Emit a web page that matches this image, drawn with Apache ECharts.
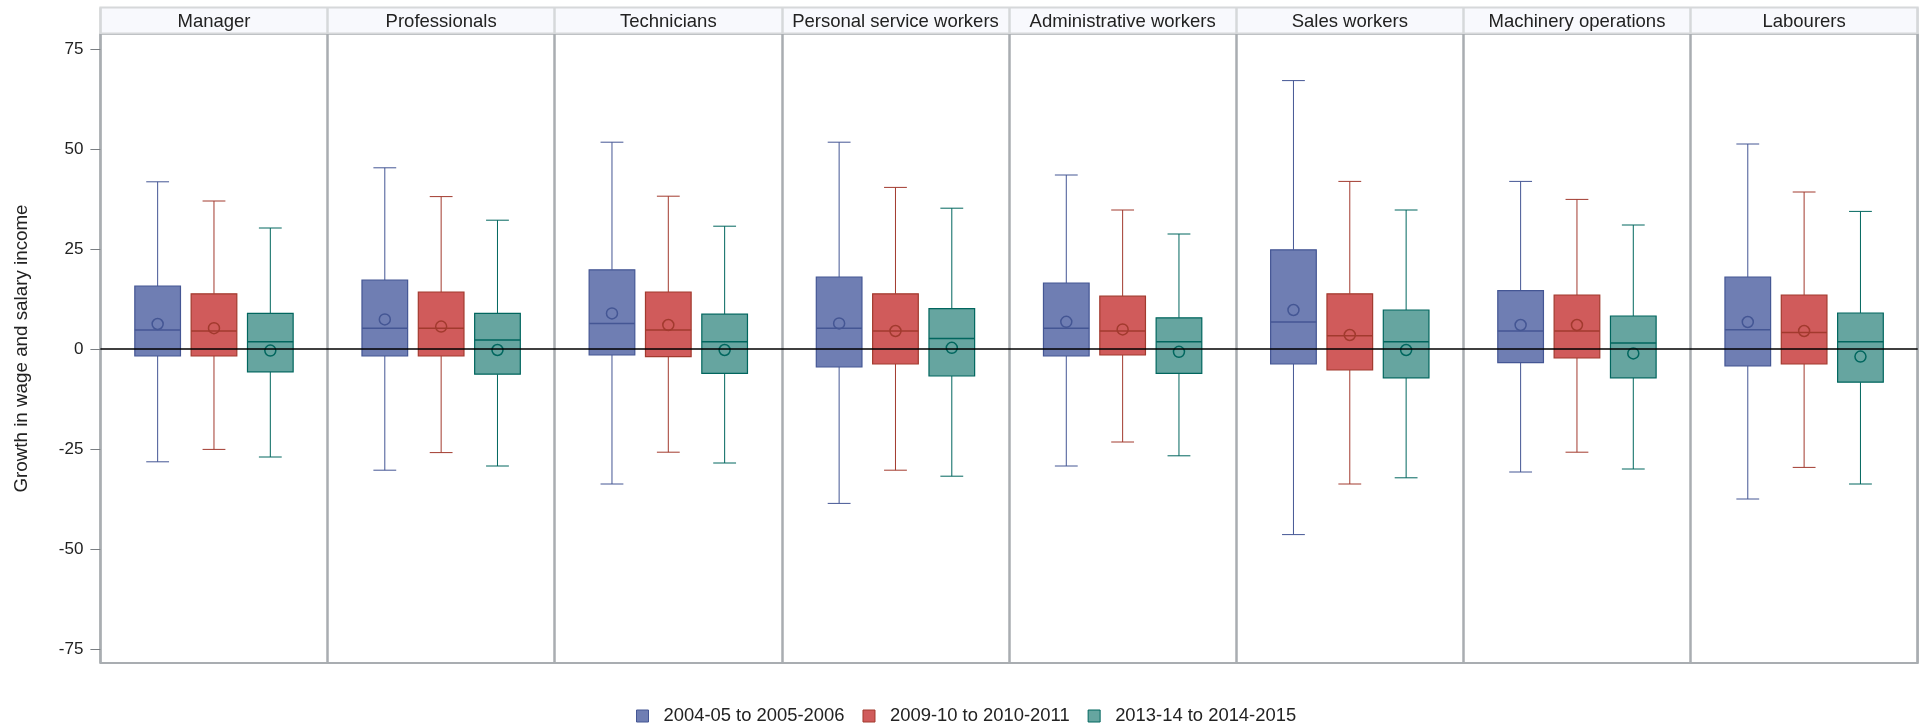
<!DOCTYPE html>
<html><head><meta charset="utf-8">
<script src="https://cdn.jsdelivr.net/npm/echarts@6/dist/echarts.min.js"></script>
<style>html,body{margin:0;padding:0;background:#fff}#c{width:1919px;height:725px}</style>
</head><body><div id="c"></div>
<script>
const categories = ['Manager','Professionals','Technicians','Personal service workers','Administrative workers','Sales workers','Machinery operations','Labourers'];
const seriesNames = ['2004-05 to 2005-2006','2009-10 to 2010-2011','2013-14 to 2014-2015'];
const yTicks = [-75,-50,-25,0,25,50,75];
// rows: [min, q1, median, q3, max]
const box2004 = [
 [-28.2,-1.75,4.75,15.75,41.8],
 [-30.3,-1.75,5.2,17.25,45.3],
 [-33.75,-1.5,6.4,19.8,51.7],
 [-38.6,-4.5,5.2,18,51.7],
 [-29.25,-1.75,5.2,16.5,43.5],
 [-46.4,-3.75,6.75,24.8,67.1],
 [-30.75,-3.4,4.5,14.6,41.9],
 [-37.5,-4.2,4.8,18,51.25]
];
const mean2004 = [6.25,7.4,8.9,6.4,6.8,9.75,6,6.75];
const box2009 = [
 [-25.1,-1.75,4.5,13.8,37],
 [-25.9,-1.75,5.2,14.25,38.1],
 [-25.8,-1.9,4.75,14.25,38.2],
 [-30.3,-3.75,4.5,13.8,40.4],
 [-23.25,-1.5,4.5,13.2,34.75],
 [-33.75,-5.25,3.3,13.8,41.9],
 [-25.8,-2.25,4.5,13.5,37.4],
 [-29.6,-3.75,4.1,13.5,39.25]
];
const mean2009 = [5.2,5.6,6,4.5,4.9,3.5,6,4.5];
const box2013 = [
 [-27,-5.7,1.8,8.9,30.25],
 [-29.25,-6.3,2.25,8.9,32.2],
 [-28.5,-6.1,1.8,8.7,30.7],
 [-31.8,-6.75,2.6,10.1,35.2],
 [-26.7,-6.1,1.8,7.8,28.75],
 [-32.2,-7.2,1.8,9.75,34.75],
 [-30,-7.2,1.5,8.25,31],
 [-33.75,-8.3,1.8,9,34.4]
];
const mean2013 = [-0.4,-0.25,-0.25,0.3,-0.7,-0.25,-1.1,-1.9];

const fills = ['#6F7EB3','#D05B5B','#66A5A0'];
const edges = ['#445694','#A23A2E','#01665E'];
const boxes = [box2004, box2009, box2013];
const means = [mean2004, mean2009, mean2013];
const frame = '#a9adb1';
const textColor = '#222';
const font = 'Liberation Sans, Arial, sans-serif';

function makeRender(k, fill, edge) {
  return function (params, api) {
    const c = api.value(0);
    const band = api.size([1, 0])[0];
    const bw = band * 0.201;
    const cx = api.coord([c, 0])[0] + (k - 1) * band * 0.248;
    const y = i => api.coord([c, api.value(i)])[1];
    const yMin = y(1), yQ1 = y(2), yMed = y(3), yQ3 = y(4), yMax = y(5), yMean = y(6);
    const cap = bw / 4;
    const ls = {stroke: edge, lineWidth: 1, fill: 'none'};
    return {type: 'group', children: [
      {type: 'line', shape: {x1: cx, y1: yQ3, x2: cx, y2: yMax}, style: ls},
      {type: 'line', shape: {x1: cx, y1: yQ1, x2: cx, y2: yMin}, style: ls},
      {type: 'line', shape: {x1: cx - cap, y1: yMax, x2: cx + cap, y2: yMax}, style: ls},
      {type: 'line', shape: {x1: cx - cap, y1: yMin, x2: cx + cap, y2: yMin}, style: ls},
      {type: 'rect', shape: {x: cx - bw / 2, y: yQ3, width: bw, height: yQ1 - yQ3}, style: {fill: fill, stroke: edge, lineWidth: 1.2}},
      {type: 'line', shape: {x1: cx - bw / 2, y1: yMed, x2: cx + bw / 2, y2: yMed}, style: {stroke: edge, lineWidth: 1.5}},
      {type: 'circle', shape: {cx: cx, cy: yMean, r: 5.5}, style: {fill: 'none', stroke: edge, lineWidth: 1.5}}
    ]};
  };
}

const series = seriesNames.map((name, k) => ({
  type: 'custom',
  name: name,
  xAxisIndex: 0, yAxisIndex: 0,
  itemStyle: {color: fills[k], borderColor: edges[k]},
  renderItem: makeRender(k, fills[k], edges[k]),
  encode: {x: 0, y: [1, 2, 3, 4, 5, 6]},
  data: categories.map((c, i) => [i].concat(boxes[k][i]).concat([means[k][i]])),
  markLine: k === 2 ? {
    silent: true, symbol: ['none', 'none'], z: 10,
    label: {show: false},
    lineStyle: {color: '#000', width: 1.6, type: 'solid'},
    data: [{yAxis: 0}]
  } : undefined
}));

const chart = echarts.init(document.getElementById('c'), null, {renderer: 'canvas'});
chart.setOption({
  animation: false,
  backgroundColor: '#fff',
  textStyle: {fontFamily: font},
  grid: [
    {left: 100.4, right: 1.3, top: 34, bottom: 62, show: true, borderColor: frame, borderWidth: 2, backgroundColor: '#fff'},
    {left: 100.4, right: 1.3, top: 7.5, height: 26, show: true, borderColor: '#d6d8da', borderWidth: 2, backgroundColor: '#f8f9fd'}
  ],
  xAxis: [
    {type: 'category', gridIndex: 0, data: categories, boundaryGap: true,
     axisLine: {show: false}, axisTick: {show: false}, axisLabel: {show: false},
     splitLine: {show: true, interval: 0, lineStyle: {color: frame, width: 2.5}}},
    {type: 'category', gridIndex: 1, data: categories, boundaryGap: true, position: 'top',
     axisLine: {show: false}, axisTick: {show: false},
     axisLabel: {show: true, inside: true, interval: 0, margin: 4.5, fontSize: 18.5, color: textColor, fontFamily: font},
     splitLine: {show: true, interval: 0, lineStyle: {color: '#d6d8da', width: 2.5}}}
  ],
  yAxis: [
    {type: 'value', gridIndex: 0, min: -78.5, max: 78.75,
     name: 'Growth in wage and salary income', nameLocation: 'middle', nameGap: 69,
     nameTextStyle: {fontSize: 18.8, color: textColor, fontFamily: font},
     axisLine: {show: false},
     axisTick: {show: true, length: 10, customValues: yTicks, lineStyle: {color: '#7a7e82', width: 1}},
     axisLabel: {show: true, customValues: yTicks, fontSize: 17, color: textColor, margin: 17, fontFamily: font},
     splitLine: {show: false}},
    {type: 'value', gridIndex: 1, show: false}
  ],
  legend: {
    left: 631, top: 702, icon: 'rect', itemWidth: 12, itemHeight: 12, itemGap: 18,
    textStyle: {fontSize: 18.4, color: textColor, fontFamily: font, padding: [0, 0, 0, 10]},
    data: seriesNames.map((n, k) => ({name: n, itemStyle: {color: fills[k], borderColor: edges[k], borderWidth: 1}}))
  },
  series: series
});
</script></body></html>
